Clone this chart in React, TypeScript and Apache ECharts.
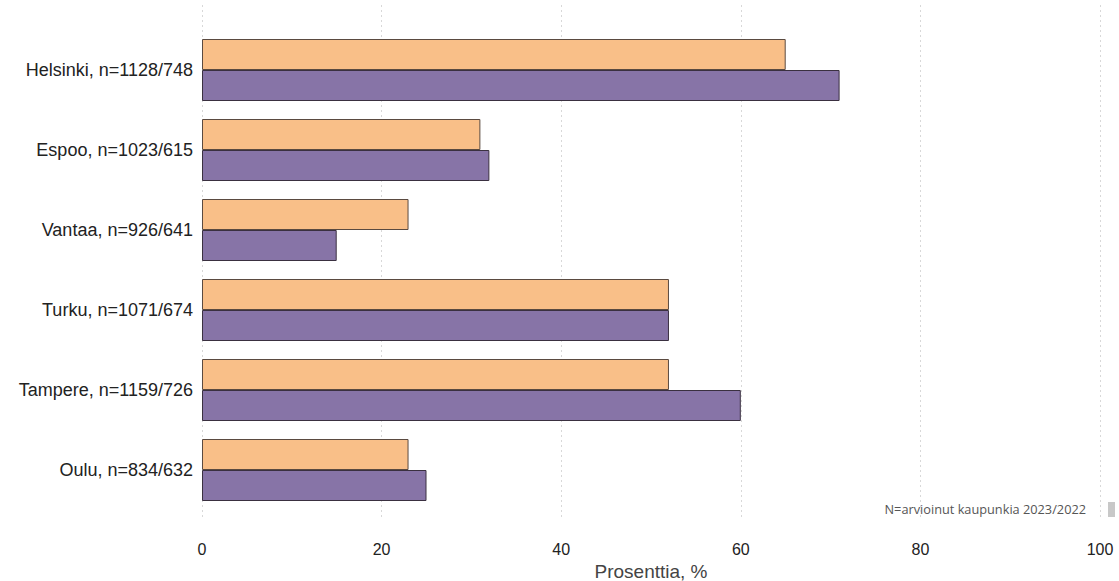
import React, { useEffect, useRef } from "react";
import * as echarts from "echarts";

const categories = [
  "Helsinki, n=1128/748",
  "Espoo, n=1023/615",
  "Vantaa, n=926/641",
  "Turku, n=1071/674",
  "Tampere, n=1159/726",
  "Oulu, n=834/632",
];
const series2023 = [65, 31, 23, 52, 52, 23];
const series2022 = [71, 32, 15, 52, 60, 25];
const xTicks = [0, 20, 40, 60, 80, 100];
const xAxisTitle = "Prosenttia, %";
const note = "N=arvioinut kaupunkia 2023/2022";

export default function App() {
  const ref = useRef<HTMLDivElement>(null);
  useEffect(() => {
    document.body.style.margin = "0";
    const chart = echarts.init(ref.current!, null, { renderer: "svg" });
    const font = "Liberation Sans, Arial, sans-serif";
    chart.setOption({
      animation: false,
      textStyle: { fontFamily: font },
      grid: [
        { left: 202, right: 19, top: 30, bottom: 71, outerBoundsMode: "none", containLabel: false },
        { left: 202, right: 19, top: 5, bottom: 61, outerBoundsMode: "none", containLabel: false },
      ],
      xAxis: [
        {
          gridIndex: 0,
          type: "value",
          min: xTicks[0],
          max: xTicks[xTicks.length - 1],
          interval: 20,
          axisLine: { show: false },
          axisTick: { show: false },
          splitLine: { show: false },
          axisLabel: { color: "#222", fontSize: 16, margin: 31, fontFamily: font },
          name: xAxisTitle,
          nameLocation: "middle",
          nameGap: 43,
          nameTextStyle: { color: "#444", fontSize: 19, lineHeight: 19, fontFamily: font },
        },
        {
          gridIndex: 1,
          type: "value",
          min: xTicks[0],
          max: xTicks[xTicks.length - 1],
          interval: 20,
          axisLine: { show: false },
          axisTick: { show: false },
          axisLabel: { show: false },
          splitLine: {
            show: true,
            lineStyle: { type: [2, 3], color: "#d8d8d8", width: 1 },
          },
        },
      ],
      yAxis: [
        {
          gridIndex: 0,
          type: "category",
          data: categories,
          inverse: true,
          axisLine: { show: false },
          axisTick: { show: false },
          axisLabel: { color: "#222", fontSize: 18, margin: 9, fontFamily: font },
        },
        {
          gridIndex: 1,
          type: "category",
          data: categories,
          show: false,
        },
      ],
      series: [
        {
          type: "bar",
          name: "2023",
          xAxisIndex: 0,
          yAxisIndex: 0,
          data: series2023,
          barGap: "0%",
          barCategoryGap: "22.5%",
          itemStyle: { color: "#F9BF88", borderColor: "#5a4a40", borderWidth: 1 },
          z: 3,
        },
        {
          type: "bar",
          name: "2022",
          xAxisIndex: 0,
          yAxisIndex: 0,
          data: series2022,
          barGap: "0%",
          barCategoryGap: "22.5%",
          itemStyle: { color: "#8774A7", borderColor: "#3a3040", borderWidth: 1 },
          z: 3,
        },
      ],
      graphic: [
        {
          type: "rect",
          left: 1108,
          top: 502,
          shape: { width: 7, height: 15 },
          style: { fill: "#c8c8c8" },
        },
        {
          type: "text",
          right: 33,
          top: 502,
          style: { text: note, fill: "#555", fontSize: 12.75, fontFamily: "Open Sans, sans-serif" },
        },
      ],
    });
    return () => chart.dispose();
  }, []);
  return <div ref={ref} style={{ width: 1119, height: 581 }} />;
}
